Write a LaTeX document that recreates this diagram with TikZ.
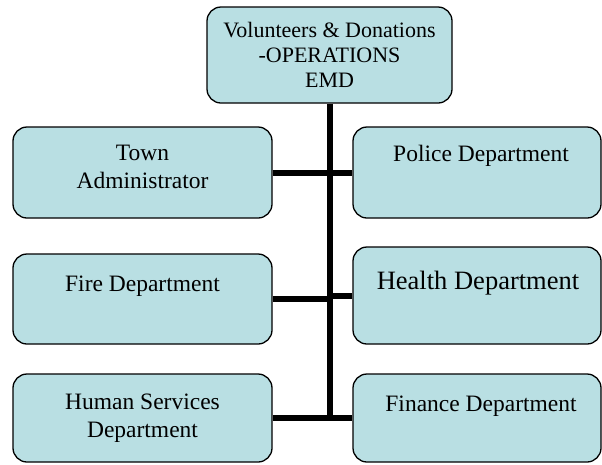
\documentclass[tikz,border=0pt]{standalone}
\usepackage{fontspec}
\setmainfont{Liberation Serif}
\definecolor{boxfill}{RGB}{185,223,227}
\tikzset{
  unit/.style={draw,line width=1.3pt,fill=boxfill,rounded corners=14pt,inner sep=0pt},
  leftunit/.style={unit,minimum width=259pt},
  rightunit/.style={unit,minimum width=248pt},
  unittext/.style={anchor=base,align=center,inner sep=0pt,font=\fontsize{23.5}{27.5}\selectfont},
  link/.style={line width=6pt}
}
\begin{document}
\begin{tikzpicture}[x=1pt,y=-1pt]
  \useasboundingbox (0,0) rectangle (602,464);
  \node[unit,minimum width=245pt,minimum height=96pt,align=center,font=\fontsize{22}{25}\selectfont] (top) at (329.5,55) {Volunteers \& Donations\\-OPERATIONS\\EMD};
  \node[leftunit,minimum height=91pt]  (town)    at (142.5,172.5) {};
  \node[rightunit,minimum height=91pt] (police)  at (477,172.5)   {};
  \node[leftunit,minimum height=90pt]  (fire)    at (142.5,299)   {};
  \node[rightunit,minimum height=97pt] (health)  at (477,295.5)   {};
  \node[leftunit,minimum height=88pt]  (human)   at (142.5,418)   {};
  \node[rightunit,minimum height=88pt] (finance) at (477,418)     {};
  % base of a two-line text is its last line
  \node[unittext] (towntext)    at (142.5,188) {Town\\Administrator};
  \node[unittext] (policetext)  at (481,161)   {Police Department};
  \node[unittext] (firetext)    at (142.5,291) {Fire Department};
  \node[unittext,font=\fontsize{26.5}{30}\selectfont] (healthtext) at (478,289) {Health Department};
  \node[unittext] (humantext)   at (142.5,437) {Human Services\\Department};
  \node[unittext] (financetext) at (481,411)   {Finance Department};
  \coordinate (bus) at (top.south |- human.east);
  \draw[link] (top.south) -- (bus);
  \draw[link] (town.east) -- (police.west);
  \draw[link] (fire.east) -- (fire.east -| bus);
  \draw[link] (health.west) -- (health.west -| bus);
  \draw[link] (human.east) -- (finance.west);
\end{tikzpicture}
\end{document}
